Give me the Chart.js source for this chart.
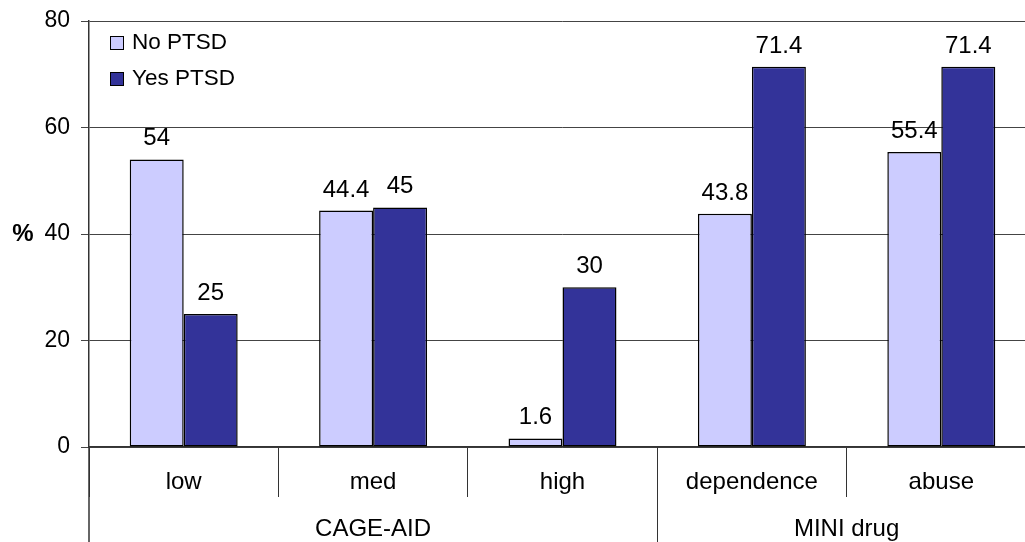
<!DOCTYPE html>
<html>
<head>
<meta charset="utf-8">
<script src="https://cdn.jsdelivr.net/npm/chart.js@4/dist/chart.umd.min.js"></script>
<style>
  html, body { margin: 0; padding: 0; background: #fff; overflow: hidden; }
  #wrap { width: 1040px; height: 542px; }
</style>
</head>
<body>
<div id="wrap"><canvas id="chart" width="1040" height="542"></canvas></div>
<script>
const categories = ["low", "med", "high", "dependence", "abuse"];
const noPtsd = [54, 44.4, 1.6, 43.8, 55.4];
const yesPtsd = [25, 45, 30, 71.4, 71.4];
const groups = [
    { label: "CAGE-AID", from: 0, to: 2 },
    { label: "MINI drug", from: 3, to: 4 }
];
const yTicks = [0, 20, 40, 60, 80];

const FONT = "'Liberation Sans', Arial, sans-serif";

// value labels above each bar
const barLabels = {
    id: "barLabels",
    afterDatasetsDraw(chart) {
        const ctx = chart.ctx;
        ctx.save();
        ctx.font = "24px " + FONT;
        ctx.fillStyle = "#000";
        ctx.textAlign = "center";
        ctx.textBaseline = "alphabetic";
        chart.data.datasets.forEach((ds, i) => {
            chart.getDatasetMeta(i).data.forEach((bar, j) => {
                ctx.fillText(String(ds.data[j]), bar.x, bar.y - 14);
            });
        });
        ctx.restore();
    }
};

// legend inside plot, group labels, long dividers, "%" label
const extras = {
    id: "extras",
    afterDraw(chart) {
        const ctx = chart.ctx;
        const x = chart.scales.x;
        const area = chart.chartArea;
        const bottom = chart.height;
        const step = x.getPixelForValue(1) - x.getPixelForValue(0);
        ctx.save();

        // y axis line continues down through the category area
        ctx.strokeStyle = "#333";
        ctx.lineWidth = 1.5;
        ctx.beginPath();
        ctx.moveTo(area.left, area.bottom);
        ctx.lineTo(area.left, bottom);
        ctx.stroke();

        ctx.font = "24px " + FONT;
        ctx.fillStyle = "#000";
        ctx.textAlign = "center";
        ctx.textBaseline = "middle";
        groups.forEach((g, i) => {
            const left = x.getPixelForValue(g.from) - step / 2;
            const right = x.getPixelForValue(g.to) + step / 2;
            ctx.fillText(g.label, (left + right) / 2, area.bottom + 82);
            if (i > 0) {
                ctx.lineWidth = 1;
                ctx.beginPath();
                ctx.moveTo(Math.round(left) + 0.5, area.bottom);
                ctx.lineTo(Math.round(left) + 0.5, bottom);
                ctx.stroke();
            }
        });

        // "%" axis label
        ctx.font = "bold 24px " + FONT;
        ctx.textAlign = "center";
        ctx.fillText("%", 23, chart.scales.y.getPixelForValue(40));

        // legend
        ctx.font = "22.5px " + FONT;
        ctx.textAlign = "left";
        chart.data.datasets.forEach((ds, i) => {
            const cy = 43 + i * 36;
            ctx.fillStyle = ds.backgroundColor;
            ctx.fillRect(110.5, cy - 6.5, 13, 13);
            ctx.strokeStyle = "#000";
            ctx.lineWidth = 1;
            ctx.strokeRect(110.5, cy - 6.5, 13, 13);
            ctx.fillStyle = "#000";
            ctx.fillText(ds.label, 132, cy);
        });
        ctx.restore();
    }
};

new Chart(document.getElementById("chart"), {
    type: "bar",
    data: {
        labels: categories,
        datasets: [
            {
                label: "No PTSD",
                data: noPtsd,
                backgroundColor: "#CCCCFF",
                borderColor: "#000",
                borderWidth: 1.5,
                borderSkipped: false
            },
            {
                label: "Yes PTSD",
                data: yesPtsd,
                backgroundColor: "#333399",
                borderColor: "#000",
                borderWidth: 1.5,
                borderSkipped: false
            }
        ]
    },
    options: {
        responsive: false,
        animation: false,
        layout: { padding: { top: 21, right: 4, left: 0, bottom: 0 } },
        datasets: { bar: { categoryPercentage: 0.57, barPercentage: 1 } },
        plugins: {
            legend: { display: false },
            tooltip: { enabled: false }
        },
        scales: {
            x: {
                offset: true,
                afterFit(scale) { scale.height = 95; },
                grid: {
                    offset: true,
                    drawOnChartArea: false,
                    drawTicks: true,
                    tickLength: 50,
                    color: "#333",
                    lineWidth: 1
                },
                border: { color: "#333", width: 1.5 },
                ticks: {
                    padding: -29,
                    color: "#000",
                    font: { family: FONT, size: 24 }
                }
            },
            y: {
                min: 0,
                max: 80,
                afterFit(scale) {
                    scale.width = 89;
                    scale.paddingTop = 0;
                    scale.paddingBottom = 0;
                },
                afterBuildTicks(scale) {
                    scale.ticks = yTicks.map(v => ({ value: v }));
                },
                grid: {
                    color: "#444",
                    lineWidth: 1,
                    tickLength: 8
                },
                border: { color: "#333", width: 1.5 },
                ticks: {
                    padding: 11,
                    color: "#000",
                    font: { family: FONT, size: 23 }
                }
            }
        }
    },
    plugins: [barLabels, extras]
});
</script>
</body>
</html>
